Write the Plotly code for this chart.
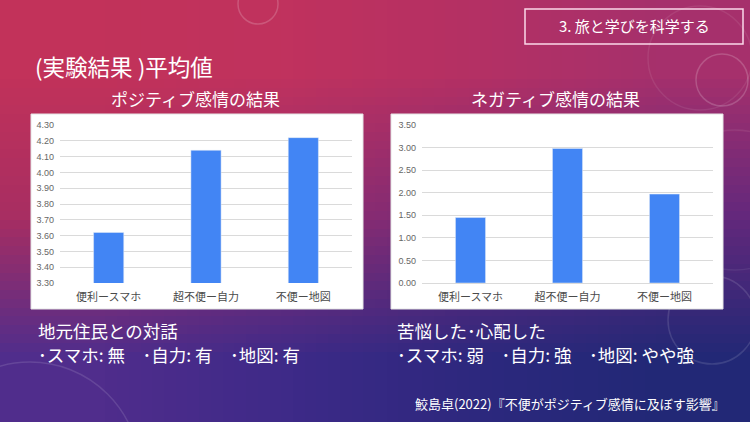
import base64
import struct
import zlib

import plotly.graph_objects as go

# ---- data ----
categories = ["便利ースマホ", "超不便ー自力", "不便ー地図"]
positive_values = [3.62, 4.14, 4.22]
negative_values = [1.45, 2.98, 1.97]

slide_tag = "3. 旅と学びを科学する"
main_title = "(実験結果 )平均値"
pos_title = "ポジティブ感情の結果"
neg_title = "ネガティブ感情の結果"
left_note1 = "地元住民との対話"
left_note2 = "･スマホ: 無　･自力: 有　･地図: 有"
right_note1 = "苦悩した･心配した"
right_note2 = "･スマホ: 弱　･自力: 強　･地図: やや強"
citation = "鮫島卓(2022)『不便がポジティブ感情に及ぼす影響』"

# background colour grid (decorative, stretched smoothly over the slide)
bg_rows = [
    [(194, 50, 90), (192, 50, 94), (180, 48, 100), (166, 48, 108)],
    [(168, 46, 98), (146, 45, 110), (120, 42, 120), (100, 40, 124)],
    [(80, 45, 140), (62, 42, 136), (45, 40, 126), (34, 40, 118)],
]


def make_png(rows):
    h, w = len(rows), len(rows[0])
    raw = b"".join(b"\x00" + bytes(c for px in row for c in px) for row in rows)

    def chunk(tag, data):
        return (struct.pack(">I", len(data)) + tag + data +
                struct.pack(">I", zlib.crc32(tag + data) & 0xFFFFFFFF))

    return (b"\x89PNG\r\n\x1a\n" +
            chunk(b"IHDR", struct.pack(">IIBBBBB", w, h, 8, 2, 0, 0, 0)) +
            chunk(b"IDAT", zlib.compress(raw)) + chunk(b"IEND", b""))


bg_uri = "data:image/png;base64," + base64.b64encode(make_png(bg_rows)).decode()

W, H = 750, 422
FONT = "Noto Sans CJK JP"
BAR = "#4285F4"
GRID = "#dadada"

fig = go.Figure()
fig.add_trace(go.Bar(x=categories, y=positive_values, marker_color=BAR,
                     xaxis="x", yaxis="y", hoverinfo="skip"))
fig.add_trace(go.Bar(x=categories, y=negative_values, marker_color=BAR,
                     xaxis="x2", yaxis="y2", hoverinfo="skip"))

ydom = [1 - 283 / H, 1 - 125 / H]
lx = [60 / W, 352 / W]
rx = [422 / W, 713 / W]

tickfont_y = dict(family="Arial", size=9, color="#666666")
tickfont_x = dict(family=FONT, size=11, color="#4a4a4a")

common = dict(showline=False, ticks="", fixedrange=True, automargin=False)

fig.update_layout(
    width=W, height=H,
    margin=dict(l=0, r=0, t=0, b=0, pad=0, autoexpand=False),
    paper_bgcolor="rgb(130,44,112)", plot_bgcolor="rgba(0,0,0,0)",
    showlegend=False, hovermode=False, bargap=0.69,
    images=[dict(source=bg_uri, xref="paper", yref="paper", x=0, y=1,
                 sizex=1, sizey=1, xanchor="left", yanchor="top",
                 sizing="stretch", layer="below")],
    xaxis=dict(domain=lx, anchor="y", tickfont=tickfont_x, showgrid=False,
               ticklabelstandoff=6, **common),
    yaxis=dict(domain=ydom, anchor="x", range=[3.3, 4.3], dtick=0.1,
               tickformat=".2f", tickfont=tickfont_y, gridcolor=GRID,
               zeroline=False, ticklabelstandoff=5, **common),
    xaxis2=dict(domain=rx, anchor="y2", tickfont=tickfont_x, showgrid=False,
                ticklabelstandoff=6, **common),
    yaxis2=dict(domain=ydom, anchor="x2", range=[0, 3.5], dtick=0.5,
                tickformat=".2f", tickfont=tickfont_y, gridcolor=GRID,
                zeroline=True, zerolinecolor=GRID, zerolinewidth=1,
                ticklabelstandoff=5, **common),
)

shapes = []
# faint decorative circles (under the panels)
for cx, cy, r, a in [(258, 4, 20, 0.18), (722, 80, 26, 0.18), (700, 58, 52, 0.08),
                     (712, 320, 44, 0.12), (30, 472, 110, 0.12), (735, 200, 70, 0.07)]:
    shapes.append(dict(type="circle", xref="paper", yref="paper",
                       x0=(cx - r) / W, x1=(cx + r) / W,
                       y0=1 - (cy + r) / H, y1=1 - (cy - r) / H,
                       line=dict(color=f"rgba(255,255,255,{a})", width=1.5),
                       layer="below"))
# white chart panels
for px0, px1 in [(31, 363), (391, 723)]:
    shapes.append(dict(type="rect", xref="paper", yref="paper",
                       x0=px0 / W, x1=px1 / W, y0=1 - 309 / H, y1=1 - 114 / H,
                       fillcolor="white", line=dict(color="#e4e4e4", width=1),
                       layer="below"))
# slide tag box
shapes.append(dict(type="rect", xref="paper", yref="paper",
                   x0=525 / W, x1=743 / W, y0=1 - 44 / H, y1=1 - 9 / H,
                   line=dict(color="rgba(255,225,240,0.95)", width=1.5),
                   fillcolor="rgba(0,0,0,0)", layer="above"))
fig.update_layout(shapes=shapes)


def ann(text, x, y, size, xanchor="left", color="white"):
    fig.add_annotation(text=text, xref="paper", yref="paper", x=x / W, y=1 - y / H,
                       xanchor=xanchor, yanchor="middle", showarrow=False,
                       font=dict(family=FONT, size=size, color=color))


ann(slide_tag, 634, 26, 15, "center")
ann(main_title, 33, 66, 22.5)
ann(pos_title, 196, 98, 17, "center")
ann(neg_title, 555, 98, 17, "center")
ann(left_note1, 36, 330, 17.5)
ann(left_note2, 36, 354, 17.5)
ann(right_note1, 395, 330, 17.5)
ann(right_note2, 395, 354, 17.5)
ann(citation, 727, 403, 13, "right")

fig.write_html("out.html")
